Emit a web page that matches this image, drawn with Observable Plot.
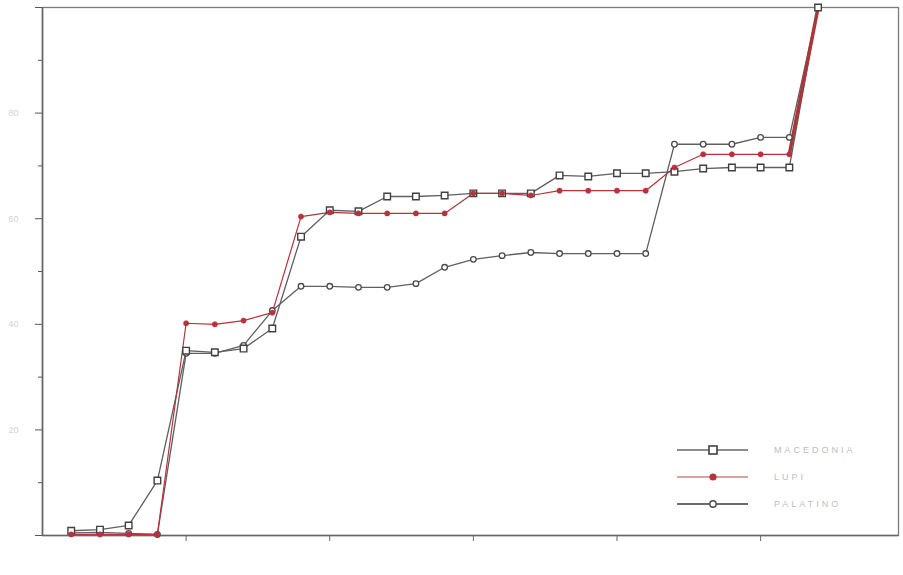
<!DOCTYPE html>
<html>
<head>
<meta charset="utf-8">
<script src="https://cdn.jsdelivr.net/npm/d3@7"></script>
<script src="https://cdn.jsdelivr.net/npm/@observablehq/plot@0.6"></script>
<style>
  html, body { margin: 0; padding: 0; background: #fff; }
  #wrap { position: relative; width: 903px; height: 575px; font-family: "Liberation Sans", "DejaVu Sans", sans-serif; }
  #legend { position: absolute; left: 676px; top: 436px; }
  .row { display: flex; align-items: center; height: 27px; }
  .row svg { display: block; }
  .lab { margin-left: 24px; font-size: 9px; letter-spacing: 3px; color: #bdbdbd; }
</style>
</head>
<body>
<div id="wrap"><div id="chart"></div><div id="legend"></div></div>
<script>
// ---- data ----
const xs = [1,2,3,4,5,6,7,8,9,10,11,12,13,14,15,16,17,18,19,20,21,22,23,24,25,26,27];
const macedonia = [0.9,1.1,1.9,10.4,35.0,34.7,35.4,39.2,56.6,61.6,61.4,64.2,64.2,64.4,64.8,64.8,64.8,68.2,68.0,68.6,68.6,68.9,69.5,69.7,69.7,69.7,100];
const lupi      = [0.2,0.2,0.2,0.2,40.2,40.0,40.7,42.2,60.4,61.2,61.0,61.0,61.0,61.0,64.8,64.8,64.4,65.3,65.3,65.3,65.3,69.7,72.2,72.2,72.2,72.2,100];
const palatino  = [0.5,0.6,0.4,0.2,34.5,34.5,36.0,42.6,47.2,47.2,47.0,47.0,47.7,50.8,52.3,53.0,53.6,53.4,53.4,53.4,53.4,74.1,74.1,74.1,75.4,75.4,100];
const seriesNames = ["MACEDONIA", "LUPI", "PALATINO"];
const yMajorTicks = [0, 20, 40, 60, 80, 100];
const yMinorTicks = [10, 30, 50, 70, 90];
const yTickLabels = [20, 40, 60, 80];
const xTicks = [5, 10, 15, 20, 25];

const gray = "#5f5f5f";
const red = "#b8323a";

const toRows = (vals, name) => xs.map((x, i) => ({x, y: vals[i], s: name}));
const mac = toRows(macedonia, seriesNames[0]);
const lup = toRows(lupi, seriesNames[1]);
const pal = toRows(palatino, seriesNames[2]);

const chart = Plot.plot({
  width: 903,
  height: 575,
  marginLeft: 42,
  marginRight: 5,
  marginTop: 7,
  marginBottom: 40,
  style: {fontFamily: "Liberation Sans, DejaVu Sans, sans-serif", background: "#fff"},
  x: {domain: [0, 29.8], label: null},
  y: {domain: [0, 100], label: null},
  marks: [
    Plot.frame({stroke: "#7a7a7a", strokeWidth: 1.3}),
    Plot.axisY({ticks: yMajorTicks, tickSize: 7, tickFormat: () => "", stroke: "#555", label: null}),
    Plot.axisY({ticks: yMinorTicks, tickSize: 4, tickFormat: () => "", stroke: "#555", label: null}),
    Plot.axisY({ticks: yTickLabels, tickSize: 0, tickPadding: 24, fill: "#d2d2d2", fontSize: 9, label: null}),
    Plot.axisX({ticks: xTicks, tickSize: 6, tickFormat: () => "", stroke: "#666", label: null}),
    Plot.ruleY([0], {stroke: "#666", strokeWidth: 1.6}),
    Plot.ruleX([0], {stroke: "#666", strokeWidth: 1.6}),
    Plot.line(pal, {x: "x", y: "y", stroke: gray, strokeWidth: 1.3}),
    Plot.line(mac, {x: "x", y: "y", stroke: gray, strokeWidth: 1.3}),
    Plot.line(lup, {x: "x", y: "y", stroke: red, strokeWidth: 1.2}),
    Plot.line(lup.slice(-2), {x: "x", y: "y", stroke: "#a8363a", strokeWidth: 3.5}),
    Plot.dot(pal.slice(0, -1), {x: "x", y: "y", symbol: "circle", r: 2.8, stroke: "#4a4a4a", strokeWidth: 1.3, fill: "#fff"}),
    Plot.dot(mac, {x: "x", y: "y", symbol: "square", r: 3.7, stroke: "#404040", strokeWidth: 1.4, fill: "#fff"}),
    Plot.dot(lup.slice(0, -1), {x: "x", y: "y", symbol: "circle", r: 2.6, fill: red, stroke: red, strokeWidth: 0.6})
  ]
});
document.getElementById("chart").appendChild(chart);

// legend (inside the plot, lower right)
const legendDefs = [
  {name: seriesNames[0], line: "#8d8d8d", mark: "square", mstroke: "#404040", mfill: "#fff"},
  {name: seriesNames[1], line: "#d7a39f", mark: "dot", mstroke: red, mfill: red},
  {name: seriesNames[2], line: "#6a6a6a", mark: "circle", mstroke: "#4a4a4a", mfill: "#fff"}
];
const leg = document.getElementById("legend");
legendDefs.forEach(d => {
  const row = document.createElement("div");
  row.className = "row";
  const svg = d3.create("svg").attr("width", 74).attr("height", 12);
  svg.append("line").attr("x1", 1).attr("x2", 72).attr("y1", 6).attr("y2", 6)
    .attr("stroke", d.line).attr("stroke-width", 2.2);
  if (d.mark === "square") {
    svg.append("rect").attr("x", 33).attr("y", 2).attr("width", 8).attr("height", 8)
      .attr("fill", d.mfill).attr("stroke", d.mstroke).attr("stroke-width", 1.6);
  } else if (d.mark === "dot") {
    svg.append("circle").attr("cx", 37).attr("cy", 6).attr("r", 3.6).attr("fill", d.mfill);
  } else {
    svg.append("circle").attr("cx", 37).attr("cy", 6).attr("r", 3.2)
      .attr("fill", d.mfill).attr("stroke", d.mstroke).attr("stroke-width", 1.4);
  }
  row.appendChild(svg.node());
  const lab = document.createElement("span");
  lab.className = "lab";
  lab.textContent = d.name;
  row.appendChild(lab);
  leg.appendChild(row);
});
</script>
</body>
</html>
